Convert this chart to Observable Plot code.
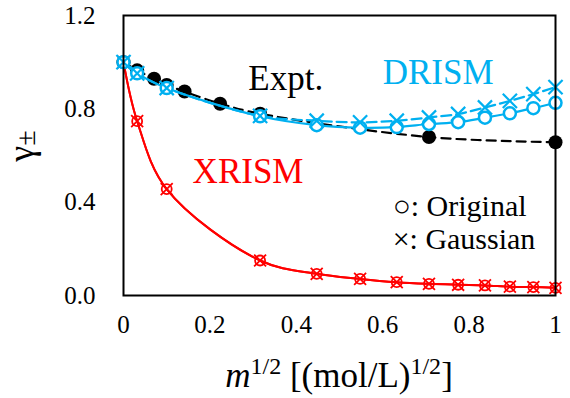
<!DOCTYPE html>
<html><head><meta charset="utf-8">
<script src="https://cdn.jsdelivr.net/npm/d3@7"></script>
<script src="https://cdn.jsdelivr.net/npm/@observablehq/plot@0.6"></script>
<style>body{margin:0;background:#fff} #chart{width:570px;height:398px} #chart svg text{font-family:'Liberation Serif','Times New Roman',serif}</style>
</head><body><div id="chart"></div>
<script>
// Data
const exptX = [0, 0.0316, 0.0707, 0.1, 0.1414, 0.2236, 0.3162, 0.7071, 1.0];
const exptY = [1.0, 0.965, 0.929, 0.902, 0.874, 0.822, 0.779, 0.679, 0.657];
const modelX = [0, 0.0316, 0.1, 0.3162, 0.4472, 0.5477, 0.6325, 0.7071, 0.7746, 0.8367, 0.8944, 0.9487, 1.0];
const drismOriginal = [1.0, 0.952, 0.889, 0.768, 0.730, 0.719, 0.722, 0.735, 0.743, 0.762, 0.781, 0.803, 0.826];
const drismGaussian = [1.0, 0.952, 0.889, 0.770, 0.749, 0.742, 0.749, 0.763, 0.778, 0.806, 0.834, 0.863, 0.893];
const xrismOriginal = [1.0, 0.747, 0.456, 0.150, 0.093, 0.071, 0.057, 0.050, 0.046, 0.043, 0.038, 0.036, 0.033];
const xrismGaussian = [1.0, 0.747, 0.456, 0.150, 0.093, 0.071, 0.057, 0.050, 0.046, 0.043, 0.038, 0.036, 0.033];
const xTicks = [0, 0.2, 0.4, 0.6, 0.8, 1];
const yTicks = [0, 0.4, 0.8, 1.2];

const BLUE = "#00B0F0", RED = "#FF0000";
const FONT = "'Liberation Serif', 'Times New Roman', serif";
const expt = exptX.map((x, i) => ({x, y: exptY[i]}));
const rows = ys => modelX.map((x, i) => ({x, y: ys[i]}));
const dO = rows(drismOriginal), dG = rows(drismGaussian);
const xO = rows(xrismOriginal), xG = rows(xrismGaussian);

const plot = Plot.plot({
  width: 570, height: 398,
  marginLeft: 123, marginRight: 15, marginTop: 15, marginBottom: 103,
  style: {fontFamily: FONT, fontSize: "25px", background: "white", color: "black"},
  x: {domain: [0, 1]},
  y: {domain: [0, 1.2]},
  marks: [
    Plot.axisX({ticks: xTicks, tickSize: 0, tickPadding: 20, tickFormat: d3.format("~g"), fontSize: 25, fontFamily: FONT, label: null}),
    Plot.axisY({ticks: yTicks, tickSize: 0, tickPadding: 28, tickFormat: d3.format(".1f"), fontSize: 25, fontFamily: FONT, label: null}),
    // XRISM
    Plot.line(xO, {x: "x", y: "y", stroke: RED, strokeWidth: 2, curve: "catmull-rom"}),
    Plot.line(xG, {x: "x", y: "y", stroke: RED, strokeWidth: 2, curve: "catmull-rom"}),
    Plot.dot(xO, {x: "x", y: "y", r: 5, stroke: RED, strokeWidth: 1.8, fill: "white", fillOpacity: 0}),
    Plot.dot(xG, {x: "x", y: "y", r: 5.5, symbol: "times", stroke: RED, strokeWidth: 1.8}),
    // Expt
    Plot.line(expt, {x: "x", y: "y", stroke: "black", strokeWidth: 2.2, strokeDasharray: "9,6", curve: "catmull-rom"}),
    Plot.dot(expt, {x: "x", y: "y", r: 7, fill: "black"}),
    // DRISM
    Plot.line(dO, {x: "x", y: "y", stroke: BLUE, strokeWidth: 2.2, curve: "catmull-rom"}),
    Plot.line(dG, {x: "x", y: "y", stroke: BLUE, strokeWidth: 2.2, strokeDasharray: "10,5", curve: "catmull-rom"}),
    Plot.dot(dO, {x: "x", y: "y", r: 6, stroke: BLUE, strokeWidth: 2.5, fill: "white"}),
    Plot.dot(dG, {x: "x", y: "y", r: 6.5, symbol: "times", stroke: BLUE, strokeWidth: 2.2}),
    Plot.frame({stroke: "black", strokeWidth: 2}),
    // annotations
    Plot.text(["Expt."], {x: 0.289, y: 0.881, textAnchor: "start", lineAnchor: "bottom", fontSize: 35, fontFamily: FONT, fill: "black"}),
    Plot.text(["DRISM"], {x: 0.600, y: 0.907, textAnchor: "start", lineAnchor: "bottom", fontSize: 35, fontFamily: FONT, fill: BLUE}),
    Plot.text(["XRISM"], {x: 0.160, y: 0.483, textAnchor: "start", lineAnchor: "bottom", fontSize: 35, fontFamily: FONT, fill: RED}),
    Plot.text(["○: Original"], {x: 0.623, y: 0.342, textAnchor: "start", lineAnchor: "bottom", fontSize: 30, fontFamily: FONT, fill: "black"}),
    Plot.text(["×: Gaussian"], {x: 0.623, y: 0.201, textAnchor: "start", lineAnchor: "bottom", fontSize: 30, fontFamily: FONT, fill: "black"})
  ]
});

// axis titles with superscripts / subscripts
const svg = d3.select(plot);
const xt = svg.append("text").attr("x", 339).attr("y", 387).attr("text-anchor", "middle")
  .attr("font-family", FONT).attr("font-size", 35).attr("fill", "black");
xt.append("tspan").attr("font-style", "italic").text("m");
xt.append("tspan").attr("font-size", 24).attr("dy", -13).text("1/2");
xt.append("tspan").attr("dy", 13).text(" [(mol/L)");
xt.append("tspan").attr("font-size", 24).attr("dy", -13).text("1/2");
xt.append("tspan").attr("dy", 13).text("]");

const yt = svg.append("text").attr("transform", "translate(33,146) rotate(-90)").attr("text-anchor", "middle")
  .attr("font-family", FONT).attr("font-size", 36).attr("fill", "black");
yt.append("tspan").text("γ");
yt.append("tspan").attr("font-size", 28).attr("dy", 2).text("±");

document.getElementById("chart").appendChild(plot);
</script>
</body></html>
